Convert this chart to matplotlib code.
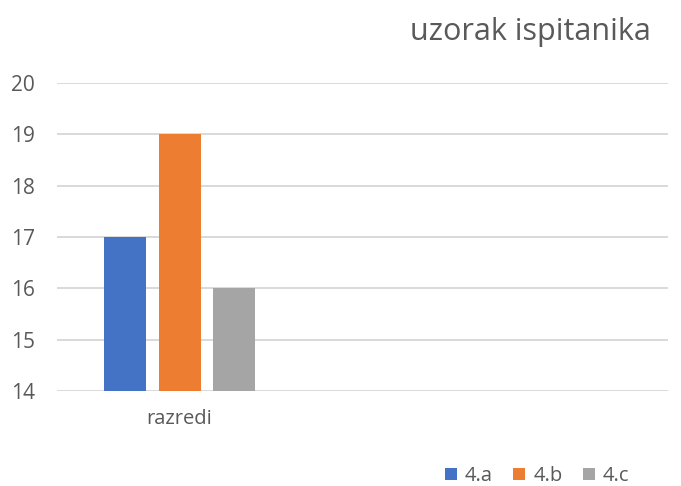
import matplotlib
matplotlib.use("Agg")
import matplotlib.pyplot as plt
from matplotlib.patches import Patch

categories = ["razredi"]
series_names = ["4.a", "4.b", "4.c"]
series_values = [[17], [19], [16]]
colors = ["#4472C4", "#ED7D31", "#A5A5A5"]
yticks = [14, 15, 16, 17, 18, 19, 20]
title = "uzorak ispitanika"

plt.rcParams['font.family'] = ['Open Sans', 'DejaVu Sans']
txt = "#595959"

fig = plt.figure(figsize=(6.81, 4.86), dpi=100)
W, H = 681, 486
ax = fig.add_axes([57 / W, 1 - 391 / H, (668 - 57) / W, (391 - 83) / H])

offsets = [-1, 0, 1]
bw = 0.77
for off, name, vals, c in zip(offsets, series_names, series_values, colors):
    xs = [i + off for i in range(len(categories))]
    ax.bar(xs, [v - 14 for v in vals], bottom=14, width=bw, color=c, label=name, zorder=3)

ax.set_ylim(14, 20)
ax.set_xlim(-2.25, -2.25 + (668 - 57) / 54.5)
ax.set_yticks(yticks)
ax.set_yticklabels([str(t) for t in yticks], fontsize=15, color=txt)
ax.set_xticks(range(len(categories)))
ax.set_xticklabels(categories, fontsize=14.5, color=txt)
ax.tick_params(axis='both', length=0)
ax.tick_params(axis='y', pad=16)
ax.tick_params(axis='x', pad=13)
ax.grid(axis='y', color="#D9D9D9", linewidth=1.4, zorder=0)
for s in ax.spines.values():
    s.set_visible(False)

fig.text(530 / W, 1 - 32 / H, title, fontsize=22, color=txt, ha='center', va='center')

handles = [Patch(facecolor=c, edgecolor='none') for c in colors]
fig.legend(handles, series_names, loc='center', bbox_to_anchor=(537 / W, 1 - 476 / H),
           ncol=3, frameon=False, fontsize=14.5, labelcolor=txt,
           handlelength=0.6, handleheight=0.6, handletextpad=0.4, columnspacing=1.0)

fig.savefig("out.png", dpi=100)
